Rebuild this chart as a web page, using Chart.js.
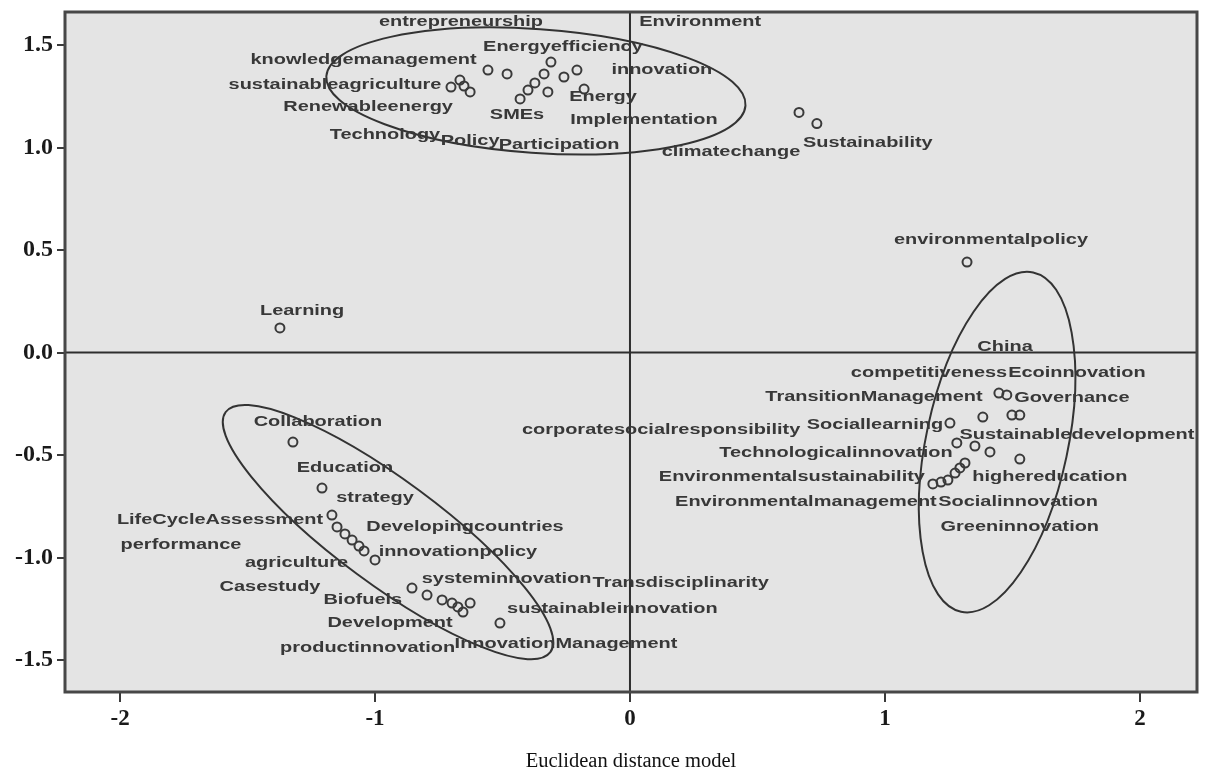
<!DOCTYPE html>
<html lang="en">
<head>
    <meta charset="UTF-8">
    <title>Euclidean distance model</title>
    <script src="https://cdn.jsdelivr.net/npm/chart.js@4"></script>
    <style>
        html, body {
            margin: 0;
            padding: 0;
            background: #ffffff;
        }
        #mdsChart {
            display: block;
        }
    </style>
</head>
<body>
    <canvas id="mdsChart" width="1205" height="776"></canvas>

    <script>
        // Stimulus coordinates (dimension 1, dimension 2)
        const stimulusX = [
            -0.557, -0.482, -0.310, -0.337, -0.373, -0.400, -0.431, -0.259, -0.208, -0.322,
            -0.702, -0.667, -0.651, -0.627, -0.180, 0.663, 0.733,
            1.322, -1.373,
            1.447, 1.478, 1.384, 1.498, 1.529, 1.255, 1.282, 1.353, 1.412, 1.529,
            1.314, 1.294, 1.275, 1.247, 1.220, 1.188,
            -1.322, -1.208, -1.169, -1.149, -1.118, -1.090, -1.063, -1.043, -1.000,
            -0.855, -0.796, -0.737, -0.698, -0.675, -0.655, -0.627, -0.510
        ];
        const stimulusY = [
            1.378, 1.359, 1.417, 1.359, 1.315, 1.280, 1.237, 1.344, 1.378, 1.271,
            1.295, 1.329, 1.300, 1.271, 1.285, 1.171, 1.117,
            0.441, 0.120,
            -0.198, -0.207, -0.315, -0.305, -0.305, -0.344, -0.441, -0.456, -0.485, -0.520,
            -0.539, -0.563, -0.588, -0.622, -0.632, -0.641,
            -0.437, -0.661, -0.793, -0.851, -0.885, -0.915, -0.944, -0.968, -1.012,
            -1.149, -1.183, -1.207, -1.222, -1.241, -1.266, -1.222, -1.320
        ];

        // Keyword labels and where they sit (data units, text centre)
        const labelText = [
            'entrepreneurship', 'Environment', 'knowledgemanagement', 'Energyefficiency', 'innovation',
            'sustainableagriculture', 'Energy', 'Renewableenergy', 'SMEs', 'Implementation',
            'Technology', 'Policy', 'Participation', 'climatechange', 'Sustainability',
            'environmentalpolicy', 'Learning',
            'China', 'competitiveness', 'Ecoinnovation', 'TransitionManagement', 'Governance',
            'corporatesocialresponsibility', 'Sociallearning', 'Sustainabledevelopment',
            'Technologicalinnovation', 'Environmentalsustainability', 'highereducation',
            'Environmentalmanagement', 'Socialinnovation', 'Greeninnovation',
            'Collaboration', 'Education', 'strategy', 'LifeCycleAssessment', 'performance',
            'agriculture', 'Casestudy', 'Developingcountries', 'innovationpolicy', 'systeminnovation',
            'Transdisciplinarity', 'Biofuels', 'sustainableinnovation', 'Development',
            'productinnovation', 'InnovationManagement'
        ];
        const labelX = [
            -0.663, 0.275, -1.045, -0.263, 0.125,
            -1.157, -0.106, -1.027, -0.443, 0.055,
            -0.961, -0.627, -0.278, 0.396, 0.933,
            1.416, -1.286,
            1.471, 1.173, 1.753, 0.957, 1.733,
            0.122, 0.961, 1.753,
            0.808, 0.635, 1.647,
            0.690, 1.522, 1.529,
            -1.224, -1.118, -1.000, -1.608, -1.761,
            -1.308, -1.412, -0.647, -0.675, -0.484,
            0.199, -1.048, -0.069, -0.941,
            -1.029, -0.251
        ];
        const labelY = [
            1.612, 1.612, 1.427, 1.490, 1.378,
            1.305, 1.246, 1.198, 1.159, 1.134,
            1.061, 1.032, 1.012, 0.978, 1.022,
            0.549, 0.202,
            0.027, -0.100, -0.100, -0.217, -0.222,
            -0.378, -0.354, -0.402,
            -0.490, -0.607, -0.607,
            -0.729, -0.729, -0.851,
            -0.339, -0.563, -0.710, -0.817, -0.939,
            -1.027, -1.144, -0.851, -0.973, -1.105,
            -1.124, -1.207, -1.251, -1.320,
            -1.441, -1.422
        ];

        // Cluster ellipses: centre, half axes (data units), rotation in degrees
        const ellipseCX = [-0.369, 1.440, -0.949];
        const ellipseCY = [1.276, -0.437, -0.876];
        const ellipseRX = [0.824, 0.278, 0.792];
        const ellipseRY = [0.302, 0.846, 0.254];
        const ellipseRot = [4, 12, 36.5];

        // Axis ticks
        const xTicks = [-2, -1, 0, 1, 2];
        const yTicks = [-1.5, -1.0, -0.5, 0.0, 0.5, 1.0, 1.5];
        const caption = 'Euclidean distance model';

        const points = stimulusX.map((x, i) => ({ x: x, y: stimulusY[i] }));
        const serif = '"Liberation Serif", "Times New Roman", serif';

        // Grey plot area, zero lines and cluster ellipses
        const backdropPlugin = {
            id: 'backdrop',
            beforeDatasetsDraw(chart) {
                const { ctx, chartArea: a, scales } = chart;
                ctx.save();
                ctx.fillStyle = '#e4e4e4';
                ctx.fillRect(a.left, a.top, a.right - a.left, a.bottom - a.top);

                ctx.strokeStyle = '#2e2e2e';
                ctx.lineWidth = 2;
                const x0 = scales.x.getPixelForValue(0);
                const y0 = scales.y.getPixelForValue(0);
                ctx.beginPath();
                ctx.moveTo(x0, a.top);
                ctx.lineTo(x0, a.bottom);
                ctx.moveTo(a.left, y0);
                ctx.lineTo(a.right, y0);
                ctx.stroke();

                ctx.strokeStyle = '#333333';
                ctx.lineWidth = 2;
                for (let i = 0; i < ellipseCX.length; i++) {
                    const cx = scales.x.getPixelForValue(ellipseCX[i]);
                    const cy = scales.y.getPixelForValue(ellipseCY[i]);
                    const rx = Math.abs(scales.x.getPixelForValue(ellipseCX[i] + ellipseRX[i]) - cx);
                    const ry = Math.abs(scales.y.getPixelForValue(ellipseCY[i] + ellipseRY[i]) - cy);
                    ctx.beginPath();
                    ctx.ellipse(cx, cy, rx, ry, ellipseRot[i] * Math.PI / 180, 0, Math.PI * 2);
                    ctx.stroke();
                }
                ctx.restore();
            }
        };

        // Keyword labels, the frame round the plot and the caption
        const labelPlugin = {
            id: 'keywordLabels',
            afterDatasetsDraw(chart) {
                const { ctx, chartArea: a, scales } = chart;
                ctx.save();
                ctx.font = 'bold 15px "Liberation Sans", Arial, sans-serif';
                ctx.fillStyle = '#383838';
                ctx.textAlign = 'center';
                ctx.textBaseline = 'middle';
                labelText.forEach((t, i) => {
                    const px = scales.x.getPixelForValue(labelX[i]);
                    const py = scales.y.getPixelForValue(labelY[i]);
                    ctx.save();
                    ctx.translate(px, py);
                    ctx.scale(1.33, 1);
                    ctx.fillText(t, 0, 0);
                    ctx.restore();
                });

                ctx.strokeStyle = '#474747';
                ctx.lineWidth = 3;
                ctx.strokeRect(a.left, a.top, a.right - a.left, a.bottom - a.top);

                ctx.font = '20.5px ' + serif;
                ctx.fillStyle = '#111111';
                ctx.fillText(caption, (a.left + a.right) / 2, 762);
                ctx.restore();
            }
        };

        new Chart(document.getElementById('mdsChart'), {
            type: 'scatter',
            data: {
                datasets: [{
                    label: 'Stimulus',
                    data: points,
                    pointRadius: 4.5,
                    pointBorderWidth: 2,
                    pointBorderColor: '#3a3a3a',
                    pointBackgroundColor: 'rgba(0,0,0,0)'
                }]
            },
            options: {
                responsive: false,
                animation: false,
                layout: {
                    padding: { top: 0, right: 8, left: 0, bottom: 0 }
                },
                plugins: {
                    legend: { display: false },
                    tooltip: { enabled: false },
                    title: { display: false }
                },
                scales: {
                    x: {
                        type: 'linear',
                        min: -2.216,
                        max: 2.224,
                        afterBuildTicks: (scale) => {
                            scale.ticks = xTicks.map(v => ({ value: v }));
                        },
                        afterFit: (scale) => {
                            scale.height = 84;
                        },
                        grid: {
                            display: true,
                            drawOnChartArea: false,
                            drawTicks: true,
                            tickLength: 10,
                            color: '#3a3a3a',
                            lineWidth: 2
                        },
                        border: { display: false },
                        ticks: {
                            padding: 3,
                            color: '#1a1a1a',
                            font: { family: serif, size: 23, weight: 'bold' },
                            callback: (v) => String(v)
                        }
                    },
                    y: {
                        type: 'linear',
                        min: -1.656,
                        max: 1.661,
                        afterBuildTicks: (scale) => {
                            scale.ticks = yTicks.map(v => ({ value: v }));
                        },
                        afterFit: (scale) => {
                            scale.width = 65;
                            scale.paddingTop = 12;
                            scale.paddingBottom = 0;
                        },
                        grid: {
                            display: true,
                            drawOnChartArea: false,
                            drawTicks: true,
                            tickLength: 8,
                            color: '#3a3a3a',
                            lineWidth: 2
                        },
                        border: { display: false },
                        ticks: {
                            padding: 4,
                            color: '#1a1a1a',
                            font: { family: serif, size: 24, weight: 'bold' },
                            callback: (v) => Number(v).toFixed(1)
                        }
                    }
                }
            },
            plugins: [backdropPlugin, labelPlugin]
        });
    </script>
</body>
</html>
